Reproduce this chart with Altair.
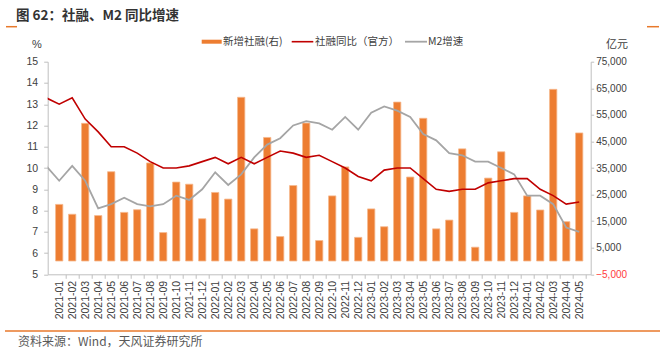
import altair as alt
import pandas as pd

months = ["2021-01", "2021-02", "2021-03", "2021-04", "2021-05", "2021-06", "2021-07", "2021-08",
          "2021-09", "2021-10", "2021-11", "2021-12", "2022-01", "2022-02", "2022-03", "2022-04",
          "2022-05", "2022-06", "2022-07", "2022-08", "2022-09", "2022-10", "2022-11", "2022-12",
          "2023-01", "2023-02", "2023-03", "2023-04", "2023-05", "2023-06", "2023-07", "2023-08",
          "2023-09", "2023-10", "2023-11", "2023-12", "2024-01", "2024-02", "2024-03", "2024-04",
          "2024-05"]

# 新增社融 (亿元, right axis)
tsf_new = [21300, 17600, 51800, 17100, 33600, 18300, 19300, 36900, 10700, 29700, 28900, 15900,
           25800, 23300, 61600, 12100, 46500, 9200, 28400, 51900, 7700, 24500, 35400, 8900,
           19600, 12900, 59800, 31600, 53700, 12100, 15400, 42200, 5200, 31200, 41100, 18300,
           24500, 19200, 64600, 14800, 48200]

# line series start one month earlier (2020-12), clipped at the left edge
line_months = ["2020-12"] + months
tsf_yoy = [13.3, 13.0, 13.3, 12.3, 11.7, 11.0, 11.0, 10.7, 10.3, 10.0, 10.0, 10.1, 10.3,
           10.5, 10.2, 10.5, 10.2, 10.5, 10.8, 10.7, 10.5, 10.6, 10.3, 10.0, 9.6,
           9.4, 9.9, 10.0, 10.0, 9.5, 9.0, 8.9, 9.0, 9.0, 9.3, 9.4, 9.5,
           9.5, 9.0, 8.7, 8.3, 8.4]
m2_yoy = [10.1, 9.4, 10.1, 9.4, 8.1, 8.3, 8.6, 8.3, 8.2, 8.3, 8.7, 8.5, 9.0,
          9.8, 9.2, 9.7, 10.5, 11.1, 11.4, 12.0, 12.2, 12.1, 11.8, 12.4, 11.8,
          12.6, 12.9, 12.7, 12.4, 11.6, 11.3, 10.7, 10.6, 10.3, 10.3, 10.0, 9.7,
          8.7, 8.7, 8.3, 7.2, 7.0]

left_ticks = list(range(5, 16))
right_ticks = list(range(-5000, 75001, 10000))

W, H = 543, 212.6
PL, PT = 47.7, 61.7
n = len(months)
step = W / n

FONT = "Liberation Sans, Noto Sans CJK SC"
CJK = "Noto Sans CJK SC"
TXT = "#404040"
AX = "#BFBFBF"
ORANGE = "#ED7D31"
RED = "#C00000"
GRAY = "#A5A5A5"

bars_df = pd.DataFrame({"idx": list(range(n)), "month": months, "value": tsf_new})
lines_df = pd.DataFrame({"idx": list(range(-1, n)), "month": line_months,
                         "yoy": tsf_yoy, "m2": m2_yoy})

label_expr = "[" + ",".join("'%s'" % m for m in months) + "][datum.value]"
xscale = alt.Scale(domain=[-0.5, n - 0.5], nice=False, zero=False)
xaxis = alt.Axis(values=list(range(n)), labelExpr=label_expr, labelAngle=270,
                 labelFont=FONT, labelFontSize=10.5, labelColor=TXT, labelPadding=2,
                 tickOffset=step / 2, labelOffset=-step / 2, tickSize=4, tickColor=AX,
                 domainColor=AX, grid=False, title=None, labelOverlap=False)

bars = alt.Chart(bars_df).mark_bar(size=7.3, color=ORANGE, stroke="#F6B98E",
                                   strokeWidth=0.8).encode(
    x=alt.X("idx:Q", scale=xscale, axis=xaxis),
    y=alt.Y("value:Q", scale=alt.Scale(domain=[-5000, 75000], nice=False, zero=False),
            axis=alt.Axis(orient="right", values=right_ticks, format=",.0f", title=None,
                          labelFont=FONT, labelFontSize=10,
                          labelColor=alt.ExprRef(expr="datum.value < 0 ? '#FF3B3B' : '#404040'"),
                          tickSize=3, tickColor=AX, domainColor=AX, grid=False,
                          labelPadding=2)),
    y2=alt.datum(0),
)

yleft = alt.Y("rate:Q", scale=alt.Scale(domain=[5, 15], nice=False, zero=False),
              axis=alt.Axis(orient="left", values=left_ticks, title=None, labelFont=FONT,
                            labelFontSize=10.5, labelColor=TXT, tickSize=4, tickColor=AX,
                            domainColor=AX, grid=False, labelPadding=6))

red = alt.Chart(lines_df).transform_calculate(rate="datum.yoy").mark_line(
    clip=True, color=RED, strokeWidth=1.6).encode(
    x=alt.X("idx:Q", scale=xscale, axis=xaxis), y=yleft)
gray = alt.Chart(lines_df).transform_calculate(rate="datum.m2").mark_line(
    clip=True, color=GRAY, strokeWidth=1.8).encode(
    x=alt.X("idx:Q", scale=xscale, axis=xaxis), y=yleft)
lines = alt.layer(gray, red)

one = pd.DataFrame({"a": [0]})


def text(s, px, py, size, color=TXT, font=CJK, weight="normal", align="left"):
    return alt.Chart(one).mark_text(text=s, font=font, fontSize=size, color=color,
                                    fontWeight=weight, align=align, baseline="middle").encode(
        x=alt.value(px - PL), y=alt.value(py - PT))


def rule(x1, x2, py, color, width):
    return alt.Chart(one).mark_rule(color=color, strokeWidth=width).encode(
        x=alt.value(x1 - PL), x2=alt.value(x2 - PL), y=alt.value(py - PT))


decor = [
    text("图 62：社融、M2 同比增速", 16, 16, 13.5, color="#333333", weight="bold"),
    rule(6, 17, 26.7, "#E8792B", 1.5),
    rule(647, 659, 26.7, "#E8792B", 1.5),
    text("%", 37, 44.5, 11, font=FONT, align="center"),
    text("亿元", 617, 44.5, 11, align="center"),
    rule(201.7, 221.7, 41.7, ORANGE, 4),
    text("新增社融(右)", 223, 41.7, 10.5),
    rule(291.7, 313.3, 41.7, RED, 1.6),
    text("社融同比（官方）", 315, 41.7, 10.5),
    rule(405, 427, 41.7, GRAY, 1.8),
    text("M2增速", 428, 41.7, 10.5),
    rule(5, 660, 331, "#E8792B", 1.5),
    text("资料来源：Wind，天风证券研究所", 18, 341.5, 12, color="#595959"),
]

chart = alt.layer(bars, lines, *decor).resolve_scale(y="independent").properties(
    width=W, height=H,
    autosize=alt.AutoSizeParams(type="none"),
    padding={"left": PL, "top": PT, "right": 665 - PL - W, "bottom": 350 - PT - H},
    background="white",
).configure_view(stroke=None)

chart.save("out.html", embed_options={"renderer": "svg", "actions": False})
